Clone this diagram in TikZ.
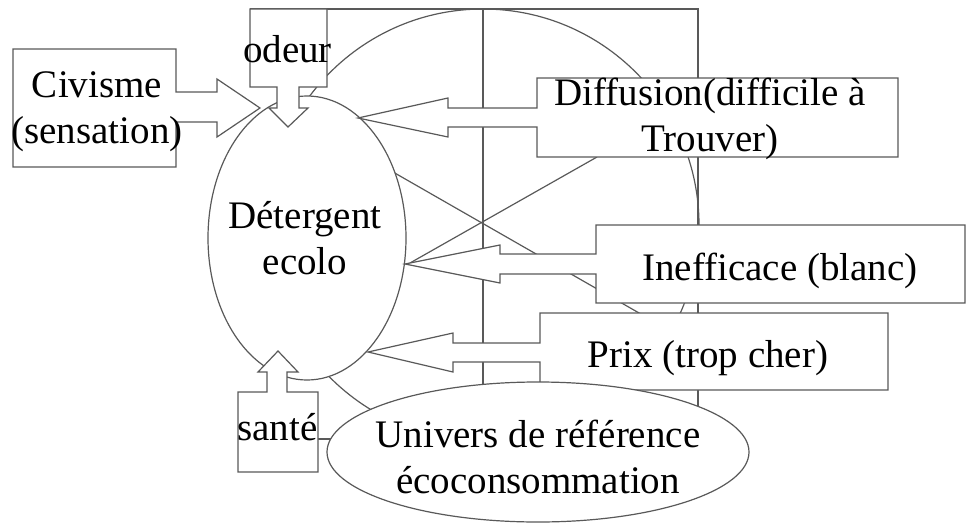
\documentclass[tikz,border=0pt]{standalone}
\usepackage{fontspec}
\setmainfont{Liberation Serif}
\usetikzlibrary{shapes.geometric}
% two centred lines, baseline on the first one
\newcommand\lbltwo[2]{\begin{tabular}[t]{@{}c@{}}#1\\#2\end{tabular}}
\begin{document}
\begin{tikzpicture}[x=1pt,y=-1pt,
  outline/.style={draw=black!65, line width=1.2pt, line join=miter},
  shapefill/.style={outline, fill=white},
  oval/.style={ellipse, shapefill, inner sep=0pt},
  lbl/.style={font=\fontsize{39}{46}\selectfont, inner sep=0pt, anchor=base, text=black}]
\useasboundingbox (0,0) rectangle (968,527);

% --- backdrop: frame, central circle and crossing lines ---
\coordinate (hub) at (483,225);
\draw[outline] (hub) circle[radius=216pt];
\coordinate (frameL) at (250,9);
\coordinate (frameR) at (698,9);
\coordinate (frameM) at (483,9);
\coordinate (frameMB) at (483,400);
\coordinate (frameRB) at (698,420);
\draw[outline] (frameL) -- (frameR) -- (frameRB);
\draw[outline] (frameM) -- (frameMB);
\coordinate (xa1) at (393,172);
\coordinate (xa2) at (660,325);
\coordinate (xb1) at (597,157);
\coordinate (xb2) at (410,263);
\draw[outline] (xa1) -- (xa2);
\draw[outline] (xb1) -- (xb2);
\coordinate (santeR) at (318,439);
\coordinate (univL) at (331,439);
\draw[outline] (santeR) -- (univL);

% --- central ellipse ---
\node[oval, minimum width=198pt, minimum height=284pt] (det) at (307,238) {};

% --- callout boxes with their arrows ---
% Civisme: arrow to the right
\draw[shapefill] (13,49) -- (176,49) -- (176,92) -- (217,92) -- (217,79) -- (260,108)
  -- (217,137) -- (217,122) -- (176,122) -- (176,167) -- (13,167) -- cycle;
% odeur: arrow downwards
\draw[shapefill] (250,9) -- (327,9) -- (327,87) -- (299,87) -- (299,108) -- (308,108)
  -- (288,127) -- (269,108) -- (277,108) -- (277,87) -- (250,87) -- cycle;
% santé: arrow upwards
\draw[shapefill] (238,392) -- (267,392) -- (267,372) -- (258,372) -- (278,351) -- (298,372)
  -- (287,372) -- (287,392) -- (318,392) -- (318,472) -- (238,472) -- cycle;
% Diffusion: arrow to the left
\draw[shapefill] (537,78) -- (898,78) -- (898,157) -- (537,157) -- (537,127) -- (448,127)
  -- (448,137) -- (358,118) -- (448,98) -- (448,108) -- (537,108) -- cycle;
% Inefficace: arrow to the left
\draw[shapefill] (596,225) -- (965,225) -- (965,303) -- (596,303) -- (596,274) -- (500,274)
  -- (500,283) -- (405,264) -- (500,245) -- (500,254) -- (596,254) -- cycle;
% Prix: arrow to the left
\draw[shapefill] (540,313) -- (888,313) -- (888,390) -- (540,390) -- (540,362) -- (453,362)
  -- (453,372) -- (368,352) -- (453,333) -- (453,343) -- (540,343) -- cycle;

% --- lower ellipse ---
\node[oval, minimum width=422pt, minimum height=140pt] (univ) at (538,452) {};

% --- labels ---
\node[lbl] (civT) at (97,97) {\lbltwo{Civisme}{(sensation)}};
\node[lbl] (odeurT) at (287.5,63) {odeur};
\node[lbl] (diffT) at (710,105) {\lbltwo{Diffusion(difficile à}{Trouver)}};
\node[lbl] (detT) at (305,228) {\lbltwo{Détergent}{ecolo}};
\node[lbl] (ineffT) at (780,280) {Inefficace (blanc)};
\node[lbl] (prixT) at (708,367) {Prix (trop cher)};
\node[lbl] (santeT) at (277.5,440) {santé};
\node[lbl] (univT) at (538,447) {\lbltwo{Univers de référence}{écoconsommation}};
\end{tikzpicture}
\end{document}
